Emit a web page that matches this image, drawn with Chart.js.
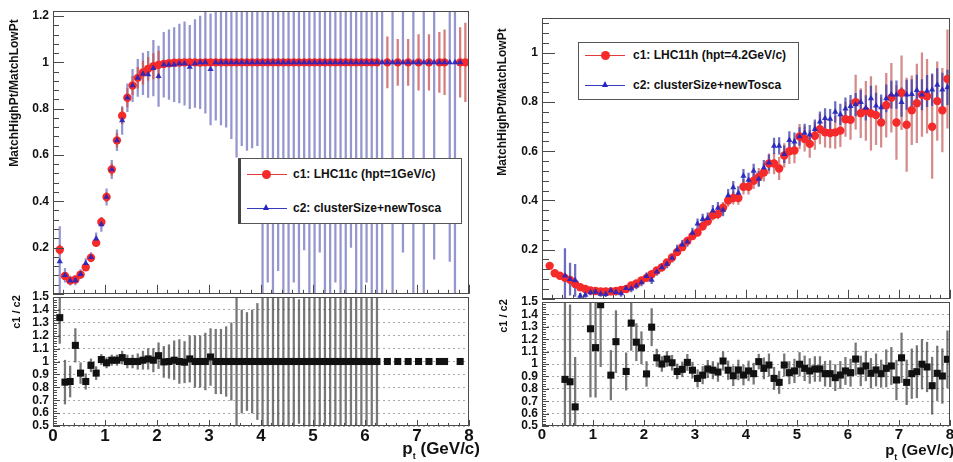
<!DOCTYPE html>
<html>
<head>
<meta charset="utf-8">
<script src="https://cdn.jsdelivr.net/npm/chart.js@4.4.1/dist/chart.umd.min.js"></script>
<style>
body { margin:0; width:953px; height:462px; overflow:hidden; position:relative; background:#fff;
       font-family:"Liberation Sans", Arial, sans-serif; font-weight:bold; color:#111; }
canvas { position:absolute; }
.ttl { position:absolute; white-space:nowrap; transform:translate(-50%,-50%) rotate(-90deg); font-size:12px; }
.xt { position:absolute; white-space:nowrap; line-height:20px; }
.xt sub { font-size:9px; vertical-align:-5px; line-height:0; }
.leg { position:absolute; background:#fff; border:1px solid #555; }
.leg .ln { position:absolute; height:1px; width:40px; }
.leg .mk { position:absolute; }
.leg .tx { position:absolute; font-size:12px; white-space:nowrap; line-height:14px; }
</style>
</head>
<body>
<canvas id="lt" width="480" height="305" style="left:0;top:0"></canvas>
<canvas id="lb" width="480" height="177" style="left:0;top:285px"></canvas>
<canvas id="rt" width="475" height="310" style="left:485px;top:0"></canvas>
<canvas id="rb" width="475" height="172" style="left:485px;top:290px"></canvas>

<div class="ttl" style="left:14px;top:93px">MatchHighPt/MatchLowPt</div>
<div class="ttl" style="left:502px;top:102px">MatchHighPt/MatchLowPt</div>
<div class="ttl" style="left:16px;top:312px;font-size:11px">c1 / c2</div>
<div class="ttl" style="left:503px;top:316px;font-size:11px">c1 / c2</div>
<div class="xt" style="right:473px;top:439px;font-size:17px">p<sub>t</sub> (GeV/c)</div>
<div class="xt" style="right:-1px;top:440px;font-size:15px">p<sub>t</sub> (GeV/c)</div>

<div class="leg" style="left:238px;top:158px;width:220px;height:64px;border-left:3px solid #444">
  <div class="ln" style="left:6px;top:15px;background:#e03a3a"></div>
  <div class="mk" style="left:21px;top:11px;width:9px;height:9px;border-radius:50%;background:#f52a2a"></div>
  <div class="tx" style="left:52px;top:8px">c1: LHC11c (hpt=1GeV/c)</div>
  <div class="ln" style="left:6px;top:49px;background:#3a3ac0"></div>
  <div class="mk" style="left:22px;top:45px;width:0;height:0;border-left:3.5px solid transparent;border-right:3.5px solid transparent;border-bottom:6px solid #2424c0"></div>
  <div class="tx" style="left:52px;top:42px">c2: clusterSize+newTosca</div>
</div>

<div class="leg" style="left:578px;top:42px;width:219px;height:56px">
  <div class="ln" style="left:6px;top:12px;background:#e03a3a"></div>
  <div class="mk" style="left:22px;top:8px;width:9px;height:9px;border-radius:50%;background:#f52a2a"></div>
  <div class="tx" style="left:54px;top:5px">c1: LHC11h (hpt=4.2GeV/c)</div>
  <div class="ln" style="left:6px;top:42px;background:#3a3ac0"></div>
  <div class="mk" style="left:23px;top:38px;width:0;height:0;border-left:3.5px solid transparent;border-right:3.5px solid transparent;border-bottom:6px solid #2424c0"></div>
  <div class="tx" style="left:54px;top:35px">c2: clusterSize+newTosca</div>
</div>

<script>
// ---- axis ticks ----
var xTicks = [0, 1, 2, 3, 4, 5, 6, 7, 8];
var yTicksTopL = [0.2, 0.4, 0.6, 0.8, 1, 1.2];
var yTicksTopR = [0.2, 0.4, 0.6, 0.8, 1];
var yTicksRatio = [0.5, 0.6, 0.7, 0.8, 0.9, 1, 1.1, 1.2, 1.3, 1.4, 1.5];

// ---- left panel: LHC11c vs clusterSize+newTosca ----
var ptL = [0.13,0.23,0.33,0.43,0.53,0.63,0.73,0.83,0.93,1.03,
  1.13,1.23,1.33,1.43,1.53,1.63,1.73,1.83,1.93,2.03,
  2.13,2.23,2.33,2.43,2.53,2.63,2.73,2.83,2.93,3.03,
  3.13,3.23,3.33,3.43,3.53,3.63,3.73,3.83,3.93,4.03,
  4.13,4.23,4.33,4.43,4.53,4.63,4.73,4.83,4.93,5.03,
  5.13,5.23,5.33,5.43,5.53,5.63,5.73,5.83,5.93,6.03,
  6.13,6.23,6.33,6.43,6.53,6.63,6.73,6.83,6.93,7.03,
  7.13,7.23,7.33,7.43,7.53,7.63,7.73,7.83,7.93];

var c1L = [0.19,0.077,0.057,0.062,0.083,0.115,0.156,0.22,0.31,0.418,
  0.537,0.663,0.769,0.847,0.9,0.933,0.956,0.972,0.983,0.989,
  0.993,0.996,0.998,0.999,1,1,1,0.999,1,1,
  1,1,1,1,1,1,1,1,1,1,
  1,1,1,1,1,1,1,1,1,1,
  1,1,1,1,1,1,1,1,1,1,
  1,1,null,1,null,1,null,1,null,1,
  null,1,null,1,1,null,null,1,1];
var c1LErr = [0.02,0.015,0.01,0.01,0.01,0.01,0.012,0.015,0.018,0.02,
  0.025,0.03,0.035,0.04,0.04,0.045,0.05,0.05,0.055,0.06,
  null,null,null,null,null,null,null,null,null,null,
  null,null,null,null,null,null,null,null,null,null,
  null,null,null,null,null,null,null,null,null,null,
  null,null,null,null,null,null,null,null,null,null,
  null,null,null,0.11,null,0.1,null,0.1,null,0.12,
  null,0.12,null,0.13,0.14,null,null,0.15,0.17];

var c2L = [0.14,0.08,0.057,0.058,0.085,0.132,0.158,0.238,0.3,0.418,
  0.537,0.663,0.749,0.847,0.9,0.933,0.95,0.948,0.975,0.94,
  0.99,0.99,0.99,0.995,0.995,0.98,0.995,1,1,0.97,
  1,1,1,1,1,1,1,1,1,1,
  1,1,1,1,1,1,1,1,1,1,
  1,1,1,1,1,1,1,1,1,1,
  1,1,1,1,1,1,1,1,1,1,
  1,1,1,1,1,1,1,1,null];
var c2LErr = [0.15,0.03,0.02,0.02,0.02,0.02,0.02,0.025,0.03,0.035,
  0.04,0.045,0.06,0.06,0.07,0.08,0.09,0.1,0.12,0.13,
  0.14,0.15,0.16,0.17,0.18,0.18,0.19,0.2,0.22,0.24,
  0.25,0.27,0.28,0.33,0.41,0.36,0.38,0.37,0.36,1.05,
  0.95,1.1,0.9,1.05,1.1,0.95,1,0.81,1.1,1.05,
  0.82,1,1.1,0.95,1.05,1,0.8,1.1,1,0.95,
  1.05,1.1,1,null,1.05,null,0.82,null,1.1,null,
  1,null,0.85,null,null,0.86,1.05,null,null];

var ratioL = [1.34,0.84,0.845,1.125,0.91,0.845,0.97,0.91,1.015,0.99,
  1.01,1.01,1.03,1,1,1,1.01,1.02,1.01,1.045,
  0.997,1,1.01,1,0.995,1.02,1,1,1,1.035,
  1,1,1,1,1,1,1,1,1,1,
  1,1,1,1,1,1,1,1,1,1,
  1,1,1,1,1,1,1,1,1,1,
  1,1,null,1,null,1,null,1,null,1,
  null,1,null,1,1,null,null,1,null];
var ratioLErr = [0.2,0.17,0.12,0.13,0.08,0.06,0.05,0.05,0.04,0.04,
  0.04,0.04,0.05,0.05,0.05,0.06,0.07,0.08,0.09,0.1,
  0.12,0.13,0.15,0.17,0.16,0.18,0.2,0.2,0.22,0.22,
  0.25,0.25,0.27,0.3,0.6,0.4,0.38,0.4,0.45,0.6,
  0.55,0.6,0.5,0.6,0.55,0.6,0.48,0.6,0.55,0.6,
  0.5,0.6,0.55,0.6,0.6,0.52,0.6,0.55,0.6,0.6,
  0.55,0.6,null,null,null,null,null,null,null,null,
  null,null,null,null,null,null,null,null,null];

// ---- right panel: LHC11h vs clusterSize+newTosca ----
var ptR = [0.05,0.15,0.25,0.35,0.45,0.55,0.65,0.75,0.85,0.95,
  1.05,1.15,1.25,1.35,1.45,1.55,1.65,1.75,1.85,1.95,
  2.05,2.15,2.25,2.35,2.45,2.55,2.65,2.75,2.85,2.95,
  3.05,3.15,3.25,3.35,3.45,3.55,3.65,3.75,3.85,3.95,
  4.05,4.15,4.25,4.35,4.45,4.55,4.65,4.75,4.85,4.95,
  5.05,5.15,5.25,5.35,5.45,5.55,5.65,5.75,5.85,5.95,
  6.05,6.15,6.25,6.35,6.45,6.55,6.65,6.75,6.85,6.95,
  7.05,7.15,7.25,7.35,7.45,7.55,7.65,7.75,7.85,7.95];

var c1R = [null,0.134,0.104,0.094,0.085,0.077,0.06,0.047,0.04,0.034,
  0.032,0.03,0.03,0.03,0.032,0.036,0.04,0.054,0.062,0.075,
  0.085,0.1,0.115,0.128,0.148,0.168,0.19,0.21,0.235,0.255,
  0.27,0.295,0.315,0.34,0.345,0.37,0.4,0.41,0.41,0.456,
  0.456,0.48,0.496,0.514,0.55,0.55,0.53,0.583,0.6,0.603,
  0.66,0.65,0.63,0.663,0.69,0.677,0.674,0.677,0.684,0.73,
  0.728,0.8,0.755,0.764,0.754,0.747,0.717,0.787,0.818,0.717,
  0.838,0.708,0.767,0.795,0.83,0.824,0.7,0.804,0.767,0.894];
var c1RErr = [null,0.01,0.01,0.008,0.008,0.008,0.006,0.006,0.006,0.006,
  0.006,0.006,0.006,0.006,0.006,0.006,0.006,0.006,0.006,0.006,
  0.008,0.008,0.01,0.01,0.01,0.012,0.012,0.014,0.014,0.015,
  0.016,0.017,0.018,0.02,0.02,0.022,0.024,0.025,0.026,0.03,
  0.03,0.032,0.035,0.036,0.04,0.042,0.045,0.048,0.05,0.05,
  0.05,0.05,0.055,0.055,0.06,0.06,0.06,0.065,0.065,0.07,
  0.08,0.11,0.1,0.12,0.15,0.12,0.1,0.13,0.14,0.15,
  0.15,0.19,0.14,0.16,0.17,0.15,0.21,0.16,0.17,0.2];

var c2R = [null,null,null,null,0.094,0.08,0.075,0.012,0.016,0.026,
  0.028,0.02,0.019,0.033,0.027,0.022,0.043,0.041,0.053,0.066,
  0.092,0.077,0.11,0.128,0.142,0.166,0.2,0.22,0.232,0.268,
  0.305,0.324,0.328,0.358,0.369,0.361,0.42,0.453,0.43,0.5,
  0.483,0.52,0.487,0.533,0.554,0.622,0.622,0.588,0.645,0.639,
  0.66,0.674,0.667,0.69,0.72,0.734,0.731,0.76,0.75,0.773,
  0.783,0.79,0.8,0.776,0.815,0.785,0.778,0.815,0.83,0.83,
  0.8,0.83,0.832,0.848,0.83,0.845,0.85,0.87,0.85,0.86];
var c2RErr = [null,null,null,null,0.11,0.065,0.065,0.01,0.01,0.01,
  0.01,0.01,0.01,0.012,0.012,0.012,0.012,0.013,0.013,0.014,
  0.014,0.015,0.015,0.016,0.016,0.017,0.018,0.018,0.019,0.02,
  0.02,0.021,0.022,0.022,0.023,0.024,0.025,0.025,0.026,0.027,
  0.028,0.028,0.03,0.03,0.032,0.032,0.034,0.034,0.035,0.036,
  0.036,0.037,0.038,0.038,0.04,0.04,0.04,0.042,0.042,0.044,
  0.045,0.046,0.048,0.05,0.05,0.052,0.052,0.055,0.055,0.056,
  0.058,0.06,0.06,0.062,0.062,0.064,0.065,0.066,0.068,0.07];

var ratioR = [null,null,null,null,0.876,0.857,0.654,null,null,1.284,
  1.132,1.478,null,0.91,1.18,null,0.94,1.33,1.176,1.13,
  0.92,1.297,1.05,1,1.04,1.01,0.94,0.957,1.013,0.95,
  0.884,0.91,0.96,0.95,0.935,1.024,0.95,0.905,0.952,0.911,
  0.944,0.922,1.019,0.965,0.992,0.884,0.852,0.992,0.93,0.944,
  0.998,0.965,0.944,0.96,0.96,0.922,0.922,0.89,0.911,0.944,
  0.93,1.04,0.944,0.984,0.925,0.952,0.922,0.965,0.984,0.871,
  1.05,0.852,0.922,0.938,0.998,0.976,0.825,0.925,0.903,1.038];
var ratioRErr = [null,null,null,null,1,0.62,0.4,null,null,0.55,
  0.4,0.5,null,0.2,0.25,null,0.15,0.22,0.15,0.13,
  0.1,0.15,0.07,0.06,0.06,0.06,0.06,0.06,0.065,0.065,
  0.07,0.07,0.07,0.07,0.075,0.075,0.075,0.08,0.08,0.08,
  0.08,0.085,0.06,0.085,0.09,0.09,0.09,0.09,0.09,0.095,
  0.095,0.1,0.1,0.1,0.1,0.1,0.105,0.105,0.11,0.11,
  0.11,0.13,0.12,0.12,0.12,0.13,0.11,0.15,0.15,0.16,
  0.2,0.18,0.2,0.21,0.2,0.2,0.23,0.22,0.22,0.23];

var FONT = "'Liberation Sans', Arial, sans-serif";

function points(xs, ys) {
  var out = [];
  xs.forEach(function(x, i) { if (ys[i] != null) out.push({x: x, y: ys[i]}); });
  return out;
}
function errRanges(xs, ys, es) {
  var out = [];
  xs.forEach(function(x, i) {
    if (ys[i] != null && es[i] != null) out.push({x: x, y: [ys[i] - es[i], ys[i] + es[i]]});
  });
  return out;
}
function errSet(data, color, w, order) {
  return {type: 'bar', data: data, backgroundColor: color, borderWidth: 0, barThickness: w,
          grouped: false, clip: 0, order: order};
}
function markSet(data, style, r, color, order) {
  return {type: 'scatter', data: data, pointStyle: style, pointRadius: r, pointBackgroundColor: color,
          pointBorderWidth: 0, showLine: false, order: order};
}
function plainLabel(v) { return String(Math.round(v * 100) / 100); }

// ROOT style frame with ticks pointing inwards
var rootFrame = {
  id: 'rootFrame',
  afterDraw: function(chart, args, o) {
    var ctx = chart.ctx, a = chart.chartArea, x = chart.scales.x, y = chart.scales.y;
    ctx.save();
    ctx.strokeStyle = '#4a4a4a';
    ctx.lineWidth = 1;
    ctx.beginPath();
    var nx = Math.round((x.max - x.min) / o.xStep);
    for (var k = 0; k <= nx; k++) {
      var px = Math.round(x.getPixelForValue(x.min + k * o.xStep)) + 0.5;
      var len = (k % o.xEvery === 0) ? o.xLong : o.xShort;
      ctx.moveTo(px, a.bottom); ctx.lineTo(px, a.bottom - len);
    }
    var ny = Math.floor((y.max - o.yFrom) / o.yStep + 1e-6);
    for (var j = 0; j <= ny; j++) {
      var py = Math.round(y.getPixelForValue(o.yFrom + j * o.yStep)) + 0.5;
      var l2 = (j % o.yEvery === 0) ? o.yLong : o.yShort;
      ctx.moveTo(a.left, py); ctx.lineTo(a.left + l2, py);
    }
    ctx.stroke();
    ctx.strokeRect(Math.round(a.left) + 0.5, Math.round(a.top) + 0.5,
                   Math.round(a.width) - 1, Math.round(a.height) - 1);
    ctx.restore();
  }
};

function pad(id, o) {
  return new Chart(document.getElementById(id), {
    type: 'scatter',
    data: {datasets: o.datasets},
    options: {
      responsive: false, animation: false, events: [], devicePixelRatio: 1,
      layout: {padding: o.padding},
      plugins: {legend: {display: false}, tooltip: {enabled: false}, rootFrame: o.frame},
      scales: {
        x: {
          type: 'linear', min: 0, max: 8, offset: false, display: o.showX,
          grid: {display: false, drawTicks: false}, border: {display: false},
          afterBuildTicks: function(s) { s.ticks = xTicks.map(function(v) { return {value: v}; }); },
          afterFit: function(s) { if (o.showX) s.height = 36; },
          ticks: {autoSkip: false, maxRotation: 0, padding: 0, color: '#111', callback: plainLabel,
                  font: {family: FONT, size: o.xFont, weight: 'bold'}}
        },
        y: {
          type: 'linear', min: o.ymin, max: o.ymax, beginAtZero: false,
          grid: o.grid ? {display: true, drawTicks: false, color: '#a8a8a8', lineWidth: 1}
                       : {display: false, drawTicks: false},
          border: {display: false, dash: [2, 3]},
          afterBuildTicks: function(s) { s.ticks = o.yTicks.map(function(v) { return {value: v}; }); },
          afterFit: function(s) { s.width = o.yWidth; },
          ticks: {autoSkip: false, padding: 4, color: '#111', callback: plainLabel,
                  font: {family: FONT, size: 12, weight: 'bold'}}
        }
      }
    },
    plugins: [rootFrame]
  });
}

var RED = '#f52a2a', BLUE = 'rgba(36,36,192,0.9)';

// left top
pad('lt', {
  padding: {top: 10, right: 11, bottom: 8, left: 0}, yWidth: 53, showX: false, xFont: 17,
  ymin: 0, ymax: 1.221, yTicks: yTicksTopL, grid: false,
  frame: {xStep: 0.2, xEvery: 5, xLong: 9, xShort: 4, yFrom: 0, yStep: 0.04, yEvery: 5, yLong: 11, yShort: 6},
  datasets: [
    errSet(errRanges(ptL, c2L, c2LErr), 'rgba(80,80,175,0.6)', 1.6, 6),
    errSet(errRanges(ptL, c1L, c1LErr), 'rgba(200,80,80,0.75)', 1.6, 5),
    markSet(points(ptL, c1L), 'circle', 4.2, RED, 2),
    markSet(points(ptL, c2L), 'triangle', 3.6, BLUE, 1)
  ]
});

// left bottom (ratio)
pad('lb', {
  padding: {top: 12, right: 11, bottom: 0, left: 0}, yWidth: 53, showX: true, xFont: 17,
  ymin: 0.5, ymax: 1.5, yTicks: yTicksRatio, grid: true,
  frame: {xStep: 0.2, xEvery: 5, xLong: 6, xShort: 3, yFrom: 0.5, yStep: 0.02, yEvery: 5, yLong: 7, yShort: 4},
  datasets: [
    errSet(errRanges(ptL, ratioL, ratioLErr), 'rgba(60,60,60,0.7)', 1.6, 5),
    markSet(points(ptL, ratioL), 'rect', 5, '#111', 1)
  ]
});

// right top
pad('rt', {
  padding: {top: 18, right: 10, bottom: 8, left: 0}, yWidth: 57, showX: false, xFont: 15,
  ymin: 0, ymax: 1.142, yTicks: yTicksTopR, grid: false,
  frame: {xStep: 0.2, xEvery: 5, xLong: 9, xShort: 4, yFrom: 0, yStep: 0.04, yEvery: 5, yLong: 13, yShort: 7},
  datasets: [
    errSet(errRanges(ptR, c1R, c1RErr), 'rgba(195,90,90,0.7)', 1.6, 6),
    errSet(errRanges(ptR, c2R, c2RErr), 'rgba(60,60,170,0.75)', 1.6, 5),
    markSet(points(ptR, c1R), 'circle', 4.2, RED, 2),
    markSet(points(ptR, c2R), 'triangle', 3.6, BLUE, 1)
  ]
});

// right bottom (ratio)
pad('rb', {
  padding: {top: 12, right: 10, bottom: 0, left: 0}, yWidth: 57, showX: true, xFont: 15,
  ymin: 0.5, ymax: 1.5, yTicks: yTicksRatio, grid: true,
  frame: {xStep: 0.2, xEvery: 5, xLong: 6, xShort: 3, yFrom: 0.5, yStep: 0.02, yEvery: 5, yLong: 7, yShort: 4},
  datasets: [
    errSet(errRanges(ptR, ratioR, ratioRErr), 'rgba(60,60,60,0.7)', 1.6, 5),
    markSet(points(ptR, ratioR), 'rect', 5, '#111', 1)
  ]
});
</script>
</body>
</html>
